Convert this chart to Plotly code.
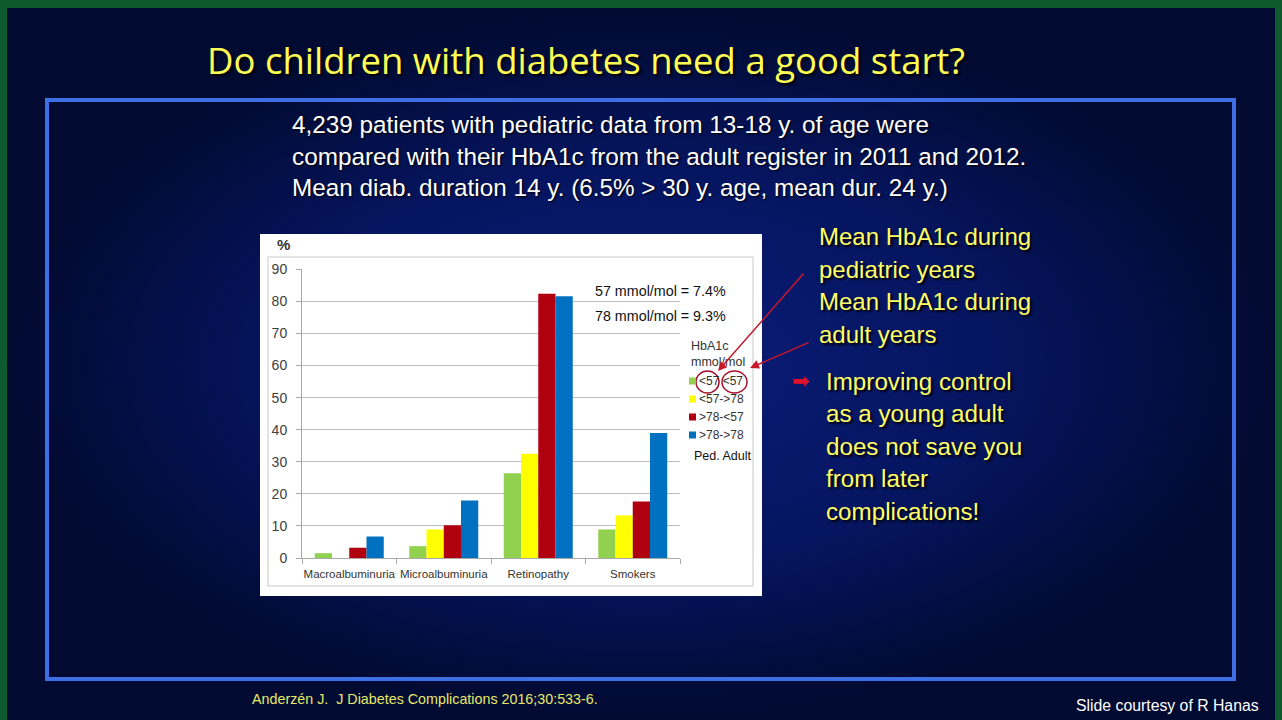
import plotly.graph_objects as go

W, H = 1282, 720

# data
categories = ["Macroalbuminuria", "Microalbuminuria", "Retinopathy", "Smokers"]
series_names = ["<57 <57", "<57->78", ">78-<57", ">78->78"]
series_colors = ["#92d050", "#ffff00", "#b0000f", "#0070c0"]
values_lt57_lt57 = [1.5, 3.7, 26.4, 8.9]
values_lt57_gt78 = [0.0, 8.9, 32.5, 13.3]
values_gt78_lt57 = [3.2, 10.2, 82.4, 17.6]
values_gt78_gt78 = [6.7, 17.9, 81.6, 39.0]
y_ticks = [0, 10, 20, 30, 40, 50, 60, 70, 80, 90]

series_values = [values_lt57_lt57, values_lt57_gt78, values_gt78_lt57, values_gt78_gt78]


def px(x):
    return x / W


def py(y):
    return 1 - y / H


fig = go.Figure()

# slide background (radial gradient) and the white chart panel, on a full-page axis
fig.add_trace(go.Scatter(
    x=[7, 1275, 1275, 7, 7], y=[8, 8, 720, 720, 8],
    mode="lines", line=dict(width=0), fill="toself",
    fillgradient=dict(type="radial",
                      colorscale=[[0, "#0a1c78"], [0.55, "#061560"], [1, "#010a30"]]),
    hoverinfo="skip", showlegend=False, xaxis="x", yaxis="y",
))
fig.add_trace(go.Scatter(
    x=[260, 762, 762, 260, 260], y=[234, 234, 596, 596, 234],
    mode="lines", line=dict(width=0), fill="toself", fillcolor="white",
    hoverinfo="skip", showlegend=False, xaxis="x", yaxis="y",
))

for name, color, vals in zip(series_names, series_colors, series_values):
    fig.add_trace(go.Bar(
        x=categories, y=vals, name=name, marker=dict(color=color, line=dict(width=0)),
        xaxis="x2", yaxis="y2", showlegend=False,
    ))

shapes = [
    # big blue frame
    dict(type="rect", xref="paper", yref="paper", x0=px(47), x1=px(1234), y0=py(100), y1=py(679),
         line=dict(color="#3f6fe4", width=4), layer="above"),
    # thin grey frame inside the chart panel
    dict(type="rect", xref="paper", yref="paper", x0=px(268), x1=px(753), y0=py(257), y1=py(586),
         line=dict(color="#c8c8c8", width=1), layer="above"),
    # circles on the legend
    dict(type="circle", xref="paper", yref="paper", x0=px(696), x1=px(719), y0=py(371), y1=py(393),
         line=dict(color="#a8102a", width=1.5), layer="above"),
    dict(type="circle", xref="paper", yref="paper", x0=px(722), x1=px(747), y0=py(371), y1=py(393),
         line=dict(color="#a8102a", width=1.5), layer="above"),
]

annotations = []


def text(x, y, s, size, color, family="Liberation Sans", xanchor="left", shadow=None, bold=False):
    if bold:
        s = "<b>" + s + "</b>"
    font = dict(size=size, color=color, family=family)
    if shadow:
        font["shadow"] = shadow
    annotations.append(dict(x=px(x), y=py(y), xref="paper", yref="paper", text=s, showarrow=False,
                            xanchor=xanchor, yanchor="middle", font=font))


text(586, 60, "Do children with diabetes need a good start?", 36.5, "#ffff55",
     family="Open Sans", xanchor="center", shadow="2px 2px 2px #000000")

body = ["4,239 patients with pediatric data from 13-18 y. of age were",
        "compared with their HbA1c from the adult register in 2011 and 2012.",
        "Mean diab. duration 14 y. (6.5% > 30 y. age, mean dur. 24 y.)"]
for i, line in enumerate(body):
    text(290, 124 + 32 * i, line, 24.3, "white", shadow="1px 1px 2px #000000")

right_top = ["Mean HbA1c during", "pediatric years", "Mean HbA1c during", "adult years"]
for i, line in enumerate(right_top):
    text(817, 237 + 32.4 * i, line, 24, "#ffff66", shadow="2px 2px 2px #000000")

right_bottom = ["Improving control", "as a young adult", "does not save you", "from later",
                "complications!"]
for i, line in enumerate(right_bottom):
    text(824, 381 + 32.5 * i, line, 24.2, "#ffff66", shadow="2px 2px 2px #000000")

text(790, 381, "➡", 21, "#e0102a", family="DejaVu Sans")

text(250, 699, "Anderzén J.  J Diabetes Complications 2016;30:533-6.", 14.3, "#e6e86a")
text(1261, 705, "Slide courtesy of R Hanas", 15.8, "white", xanchor="right")

# chart-internal text
text(275, 244, "%", 15, "#333333", bold=True)
text(593, 291, "57 mmol/mol = 7.4%", 14.3, "#111111")
text(593, 316, "78 mmol/mol = 9.3%", 14.3, "#111111")
text(689, 346, "HbA1c", 12.5, "#333333")
text(689, 362, "mmol/mol", 12.5, "#333333")

for i, (name, color) in enumerate(zip(series_names, series_colors)):
    yy = 381 + 18 * i
    shapes.append(dict(type="rect", xref="paper", yref="paper", x0=px(689), x1=px(696),
                       y0=py(yy + 3.5), y1=py(yy - 3.5), fillcolor=color, line=dict(width=0),
                       layer="above"))
    label = name.replace("<", "&lt;").replace(">", "&gt;")
    text(697, yy, label, 12, "#333333")
text(692, 456, "Ped. Adult", 12.5, "#111111")

# arrows from the explanation text to the circles
annotations.append(dict(x=px(718), y=py(371), xref="paper", yref="paper", ax=805 - 718, ay=272 - 371,
                        showarrow=True, arrowcolor="#c8182c", arrowwidth=1.5, arrowhead=2,
                        arrowsize=1.2, text=""))
annotations.append(dict(x=px(750), y=py(368), xref="paper", yref="paper", ax=810 - 750, ay=342 - 368,
                        showarrow=True, arrowcolor="#c8182c", arrowwidth=1.5, arrowhead=2,
                        arrowsize=1.2, text=""))

fig.update_layout(
    width=W, height=H,
    margin=dict(l=0, r=0, t=0, b=0, pad=0),
    paper_bgcolor="#0e5a2e",
    plot_bgcolor="rgba(0,0,0,0)",
    barmode="group", bargap=0.27, bargroupgap=0,
    xaxis=dict(domain=[0, 1], range=[0, W], visible=False, fixedrange=True, automargin=False),
    yaxis=dict(domain=[0, 1], range=[H, 0], visible=False, fixedrange=True, automargin=False),
    xaxis2=dict(domain=[px(302), px(680)], anchor="y2", showline=True, linecolor="#a8a8a8",
                linewidth=1, ticks="outside", tickson="boundaries", ticklen=5, tickcolor="#a8a8a8",
                tickangle=0, automargin=False, fixedrange=True, ticklabelstandoff=5,
                tickfont=dict(size=11.5, color="#333333", family="Liberation Sans"), showgrid=False),
    yaxis2=dict(domain=[py(558), py(269.3)], anchor="x2", range=[0, 90], tickvals=y_ticks,
                showline=True, linecolor="#a8a8a8", linewidth=1, ticks="outside", ticklen=5,
                tickcolor="#a8a8a8", gridcolor="#bdbdbd", gridwidth=1, zeroline=False,
                automargin=False, fixedrange=True,
                tickfont=dict(size=14, color="#404040", family="Liberation Sans"),
                ticklabelstandoff=6),
    shapes=shapes,
    annotations=annotations,
    showlegend=False,
)

fig.write_html("out.html", config={"displayModeBar": False},
               post_script="document.body.style.margin = '0';")
